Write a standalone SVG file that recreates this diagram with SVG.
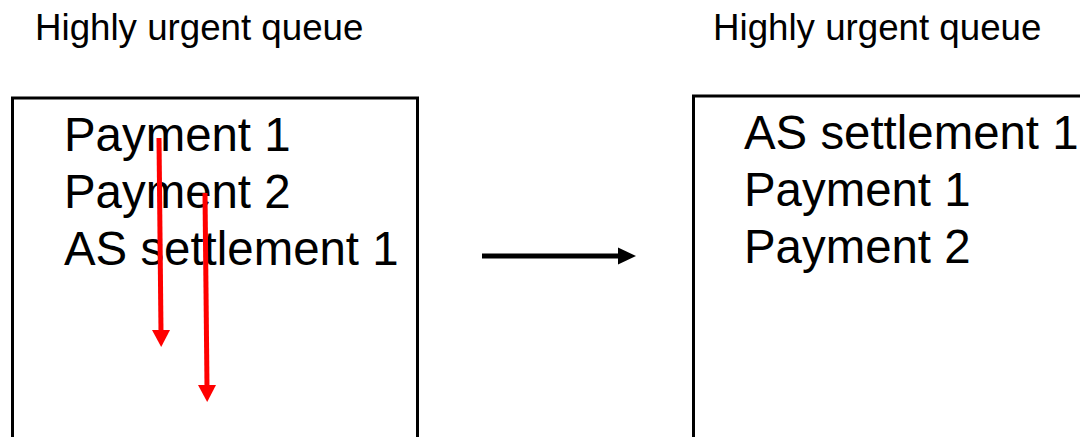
<svg xmlns="http://www.w3.org/2000/svg" width="1080" height="437" viewBox="0 0 1080 437">
<style>
.title{font-family:"Liberation Sans",Arial,sans-serif;font-size:36.7px;fill:#000}
.item{font-family:"Liberation Sans",Arial,sans-serif;font-size:47.4px;fill:#000}
.box{fill:#fff;stroke:#000;stroke-width:3}
.red{stroke:#ff0000;stroke-width:5;fill:none}
.blk{stroke:#000;stroke-width:5;fill:none}
.redhead{fill:#ff0000}
.blkhead{fill:#000}
</style>
<rect width="1080" height="437" fill="#fff"/>
<g id="title-left"><text class="title" x="35" y="39.5">Highly urgent queue</text></g>
<g id="title-right"><text class="title" x="713" y="39.5">Highly urgent queue</text></g>
<g id="queue-left">
<rect class="box" x="12.5" y="98" width="405" height="360"/>
<text class="item" x="64" y="151">Payment 1</text>
<text class="item" x="64" y="208">Payment 2</text>
<text class="item" x="64" y="265">AS settlement 1</text>
</g>
<g id="queue-right">
<rect class="box" x="693.5" y="96" width="420" height="360"/>
<text class="item" x="744" y="149">AS settlement 1</text>
<text class="item" x="744" y="206">Payment 1</text>
<text class="item" x="744" y="263">Payment 2</text>
</g>
<g id="connectors">
<line class="red" x1="159" y1="138" x2="161" y2="332"/>
<path class="redhead" d="M152,330 L170,330 L161.2,347 Z"/>
<line class="red" x1="205" y1="193" x2="207" y2="387"/>
<path class="redhead" d="M198,385 L216,385 L207.2,402 Z"/>
<line class="blk" x1="482" y1="256" x2="620" y2="256"/>
<path class="blkhead" d="M618,247.5 L636,256 L618,264.5 Z"/>
</g>
</svg>
